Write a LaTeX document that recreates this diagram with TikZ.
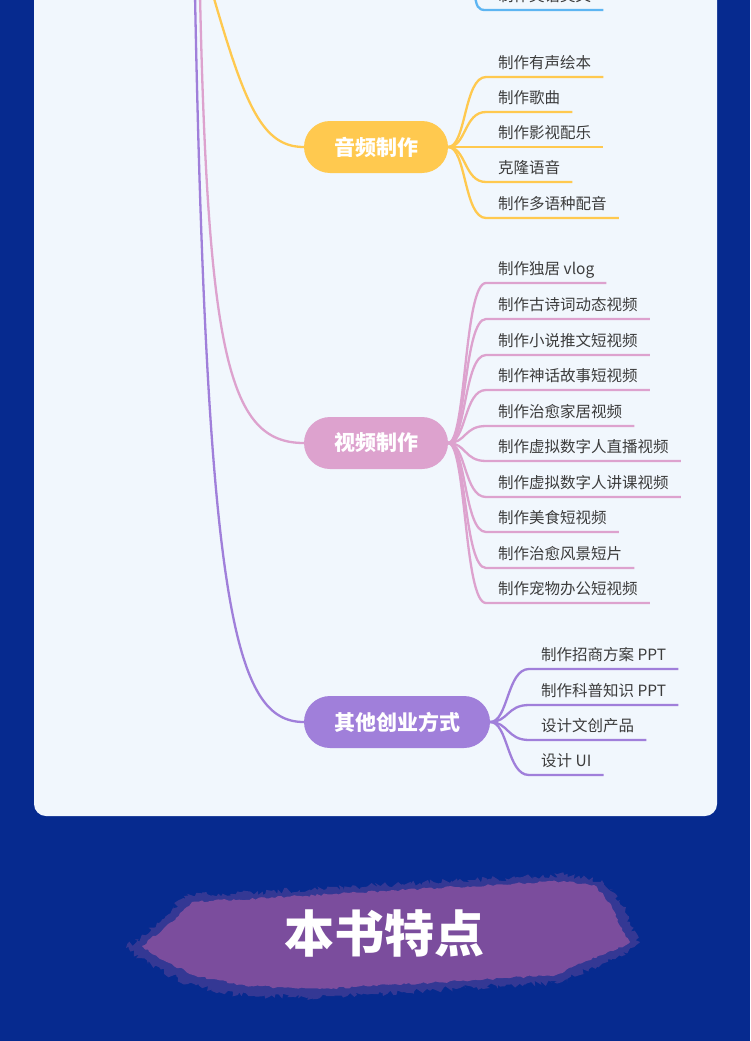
\documentclass[tikz,border=0pt]{standalone}
\usepackage{fontspec}
\newfontfamily\cjk{Noto Sans CJK SC}
\usetikzlibrary{decorations.pathmorphing}
\definecolor{bgblue}{HTML}{062A8F}
\definecolor{cardbg}{HTML}{F1F7FD}
\definecolor{yel}{HTML}{FFC94F}
\definecolor{pnk}{HTML}{DDA2CE}
\definecolor{pur}{HTML}{A07FDA}
\definecolor{blu}{HTML}{5DB5F2}
\definecolor{leaftext}{HTML}{3C3C3C}
\definecolor{brush}{HTML}{7B4D9D}
\tikzset{topic/.style={rounded corners=26pt,minimum height=52pt,inner xsep=30pt,text=white,font=\cjk\bfseries\fontsize{21}{24}\selectfont}}
\tikzset{leaf/.style={anchor=south west,inner xsep=12pt,inner ysep=5pt,text height=12pt,text depth=3pt,text=leaftext,font=\cjk\fontsize{15.5}{18}\selectfont}}
\tikzset{branch/.style={line width=2.3pt}}

\begin{document}
\begin{tikzpicture}[x=1pt, y=-1pt]
  \clip (0,0) rectangle (750,1041);
  \fill[bgblue] (0,0) rectangle (750,1041);
  \fill[cardbg, rounded corners=12pt] (34,-30) rectangle (717,816);

  % main topics
  \node[topic, fill=yel] (A) at (376,147) {音频制作};
  \node[topic, fill=pnk] (V) at (376,443) {视频制作};
  \node[topic, fill=pur] (O) at (397,722) {其他创业方式};

  % trunk ends above the picture
  \coordinate (tu) at (195,-5);
  \coordinate (tp) at (200,-5);
  \coordinate (ty) at (213,-5);
  \coordinate (tb) at (474,-12);

  \draw[branch, pur] (tu) .. controls (207,610) and (235,722) .. (O.west);
  \draw[branch, pnk] (tp) .. controls (208,360) and (230,443) .. (V.west);
  \draw[branch, yel] (ty) .. controls (245,105) and (262,147) .. (A.west);

  % cut-off leaf at the top
  \node[leaf] (b1) at (486,10) {制作英语美文};
  \draw[branch, blu] (tb) .. controls (476,8) and (478,10) .. (b1.south west) -- (b1.south east);

  % audio
  \node[leaf] (a1) at (486,77) {制作有声绘本};
  \node[leaf] (a2) at (486,112) {制作歌曲};
  \node[leaf] (a3) at (486,147) {制作影视配乐};
  \node[leaf] (a4) at (486,182) {克隆语音};
  \node[leaf] (a5) at (486,218) {制作多语种配音};

  \draw[branch, yel] (A.east) .. controls +(18,0) and +(-22,0) .. (a1.south west) -- (a1.south east);
  \draw[branch, yel] (A.east) .. controls +(18,0) and +(-22,0) .. (a2.south west) -- (a2.south east);
  \draw[branch, yel] (A.east) -- (a3.south west) -- (a3.south east);
  \draw[branch, yel] (A.east) .. controls +(18,0) and +(-22,0) .. (a4.south west) -- (a4.south east);
  \draw[branch, yel] (A.east) .. controls +(18,0) and +(-22,0) .. (a5.south west) -- (a5.south east);

  % video
  \node[leaf] (v1) at (486,283) {制作独居 vlog};
  \node[leaf] (v2) at (486,319) {制作古诗词动态视频};
  \node[leaf] (v3) at (486,355) {制作小说推文短视频};
  \node[leaf] (v4) at (486,390) {制作神话故事短视频};
  \node[leaf] (v5) at (486,426) {制作治愈家居视频};
  \node[leaf] (v6) at (486,461) {制作虚拟数字人直播视频};
  \node[leaf] (v7) at (486,497) {制作虚拟数字人讲课视频};
  \node[leaf] (v8) at (486,532) {制作美食短视频};
  \node[leaf] (v9) at (486,568) {制作治愈风景短片};
  \node[leaf] (v10) at (486,603) {制作宠物办公短视频};

  \draw[branch, pnk] (V.east) .. controls +(18,0) and +(-22,0) .. (v1.south west) -- (v1.south east);
  \draw[branch, pnk] (V.east) .. controls +(18,0) and +(-22,0) .. (v2.south west) -- (v2.south east);
  \draw[branch, pnk] (V.east) .. controls +(18,0) and +(-22,0) .. (v3.south west) -- (v3.south east);
  \draw[branch, pnk] (V.east) .. controls +(18,0) and +(-22,0) .. (v4.south west) -- (v4.south east);
  \draw[branch, pnk] (V.east) .. controls +(18,0) and +(-22,0) .. (v5.south west) -- (v5.south east);
  \draw[branch, pnk] (V.east) .. controls +(18,0) and +(-22,0) .. (v6.south west) -- (v6.south east);
  \draw[branch, pnk] (V.east) .. controls +(18,0) and +(-22,0) .. (v7.south west) -- (v7.south east);
  \draw[branch, pnk] (V.east) .. controls +(18,0) and +(-22,0) .. (v8.south west) -- (v8.south east);
  \draw[branch, pnk] (V.east) .. controls +(18,0) and +(-22,0) .. (v9.south west) -- (v9.south east);
  \draw[branch, pnk] (V.east) .. controls +(18,0) and +(-22,0) .. (v10.south west) -- (v10.south east);

  % other
  \node[leaf] (o1) at (529,669) {制作招商方案 PPT};
  \node[leaf] (o2) at (529,705) {制作科普知识 PPT};
  \node[leaf] (o3) at (529,740) {设计文创产品};
  \node[leaf] (o4) at (529,775) {设计 UI};

  \draw[branch, pur] (O.east) .. controls +(18,0) and +(-22,0) .. (o1.south west) -- (o1.south east);
  \draw[branch, pur] (O.east) .. controls +(18,0) and +(-22,0) .. (o2.south west) -- (o2.south east);
  \draw[branch, pur] (O.east) .. controls +(18,0) and +(-22,0) .. (o3.south west) -- (o3.south east);
  \draw[branch, pur] (O.east) .. controls +(18,0) and +(-22,0) .. (o4.south west) -- (o4.south east);

  % brush stroke title
  \fill[brush, opacity=0.4, decorate, decoration={random steps, segment length=2.5pt, amplitude=3pt}]
    (126,948) -- (165,918) -- (184,896) -- (300,890) -- (420,883) -- (564,875) -- (602,880)
    -- (620,900) -- (630,925) -- (640,942) -- (622,956) -- (592,967) -- (562,982) -- (460,988)
    -- (320,998) -- (238,995) -- (188,984) -- (148,964) -- cycle;
  \fill[brush, decorate, decoration={random steps, segment length=3pt, amplitude=1.2pt}]
    (142,946) -- (172,922) -- (192,902) -- (300,896) -- (420,889) -- (564,881) -- (594,885)
    -- (610,903) -- (620,926) -- (630,942) -- (613,951) -- (586,961) -- (556,975) -- (460,981)
    -- (320,989) -- (246,986) -- (196,976) -- (160,959) -- cycle;
  \node[text=white, font=\cjk\bfseries\fontsize{50}{56}\selectfont] (T) at (384,933) {本书特点};
\end{tikzpicture}
\end{document}
